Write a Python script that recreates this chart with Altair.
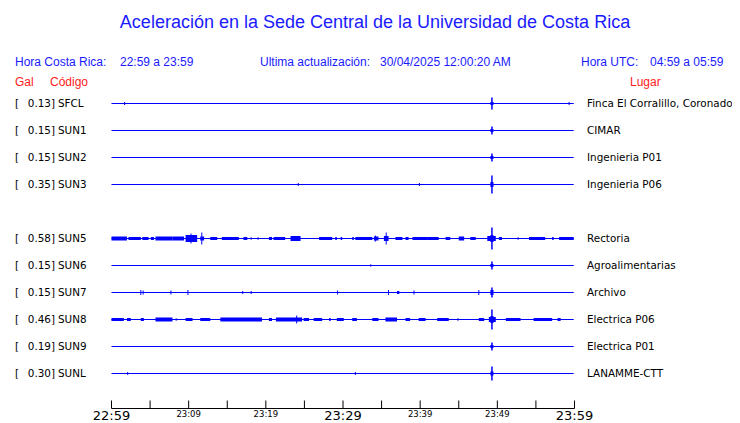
import altair as alt
import pandas as pd

# ---------------- data ----------------
codes = ["SFCL", "SUN1", "SUN2", "SUN3", "SUN5", "SUN6", "SUN7", "SUN8", "SUN9", "SUNL"]
row_pos = [0, 1, 2, 3, 5, 6, 7, 8, 9, 10]
gal = [0.13, 0.15, 0.15, 0.35, 0.58, 0.15, 0.15, 0.46, 0.19, 0.30]
places = ["Finca El Corralillo, Coronado", "CIMAR", "Ingenieria P01", "Ingenieria P06",
          "Rectoria", "Agroalimentarias", "Archivo", "Electrica P06", "Electrica P01", "LANAMME-CTT"]
trace_end = [59.9, 59.9, 59.9, 59.9, 59.9, 59.9, 59.9, 59.9, 59.9, 59.9]

# main event (minutes after 22:59) and amplitude per station
event_t = 49.3
event_amp = [6, 4, 4, 9, 11, 4, 5, 10, 4, 7]
event_box = [1.5, 1.5, 1.5, 2.5, 3.5, 1.5, 2.5, 3.5, 1.5, 2]

# small isolated blips
blip_code = ["SFCL", "SFCL", "SUN3", "SUN3", "SUN6", "SUNL", "SUNL",
             "SUN7", "SUN7", "SUN7", "SUN7", "SUN7", "SUN7", "SUN7", "SUN7", "SUN7", "SUN7",
             "SUN5", "SUN5", "SUN5", "SUN5", "SUN8"]
blip_t = [1.7, 59.3, 24.2, 39.9, 33.6, 2.1, 31.6,
          3.8, 4.1, 7.7, 9.9, 17.0, 18.1, 29.3, 35.9, 39.2, 47.6,
          10.3, 11.7, 34.2, 35.6, 24.0]
blip_amp = [1.5, 1.5, 1.5, 1.5, 1.2, 1.5, 1.5,
            2.5, 2, 2, 2.5, 1.5, 1.5, 2, 2.5, 2, 2.5,
            5, 6, 3, 6, 4]

# bursts of noise (start, end in minutes; half amplitude)
burst_code = (["SUN5"] * 36) + (["SUN8"] * 26) + ["SUN7"]
burst_start = [0.0, 2.2, 4.0, 5.1, 5.7, 7.9, 9.6, 11.5, 12.8, 14.3, 17.1, 18.0, 18.9, 20.4,
               21.0, 23.2, 26.9, 29.0, 29.7, 31.2, 31.6, 34.0, 35.3, 36.8, 38.1, 39.0, 43.3,
               45.0, 46.5, 48.7, 50.2, 52.6, 54.1, 57.1, 58.0, 41.0,
               0.0, 2.0, 3.8, 5.7, 8.3, 9.6, 11.5, 14.1, 20.4, 21.3, 24.9, 26.2, 28.2, 29.2,
               31.2, 33.8, 35.5, 38.1, 39.8, 42.2, 44.8, 47.6, 48.9, 51.1, 54.7, 57.8,
               37.0]
burst_end = [2.0, 3.8, 4.8, 5.5, 7.9, 9.4, 11.1, 12.0, 13.7, 16.5, 17.6, 18.2, 19.1, 20.8,
             22.5, 24.5, 28.6, 29.2, 29.9, 31.4, 33.8, 34.6, 35.9, 37.7, 38.5, 41.0, 43.9,
             45.7, 47.2, 49.8, 50.6, 52.8, 56.2, 57.3, 59.9, 42.4,
             1.6, 2.5, 4.2, 7.9, 8.5, 10.5, 12.8, 19.5, 20.8, 24.7, 25.6, 27.3, 28.4, 30.1,
             31.8, 34.6, 37.0, 38.7, 40.7, 43.7, 45.0, 48.3, 49.8, 53.0, 57.1, 58.2,
             37.3]
burst_amp = [2, 1.5, 1.5, 1.5, 2, 2, 3.5, 2, 1.5, 1.5, 1.5, 1, 1, 1.5,
             1.5, 2.5, 1.5, 1.5, 1.5, 1.5, 1.5, 2, 2.5, 1.5, 1.5, 1.5, 1.5,
             2, 1.5, 2.5, 1.5, 1, 1.5, 1.5, 1.5, 1.5,
             1.5, 1.5, 1.5, 2, 1, 1.5, 1.5, 2, 1.5, 2, 1.5, 1.5, 1.5, 1.5,
             1.5, 1.5, 2, 1.5, 1.5, 1.5, 1, 1.5, 2.5, 1.5, 1.5, 1.5,
             1.5]

tick_minutes = [0, 5, 10, 15, 20, 25, 30, 35, 40, 45, 50, 55, 60]
label_minutes = [0, 10, 20, 30, 40, 50, 60]
tick_labels = ["22:59", "23:09", "23:19", "23:29", "23:39", "23:49", "23:59"]
label_major = [True, False, False, True, False, False, True]

# ---------------- tables ----------------
row_of = dict(zip(codes, row_pos))
ROW_PX = 27.0

stations = pd.DataFrame({"code": codes, "row": row_pos, "gal": gal, "place": places,
                         "end": trace_end, "t": event_t, "amp": event_amp, "box": event_box})
stations["galtxt"] = stations["gal"].map(lambda v: f"{v:.2f}]")

blips = pd.DataFrame({"code": blip_code, "t": blip_t, "amp": blip_amp})
blips["row"] = blips["code"].map(row_of)

bursts = pd.DataFrame({"code": burst_code, "s": burst_start, "e": burst_end, "amp": burst_amp})
bursts["row"] = bursts["code"].map(row_of)

ticks = pd.DataFrame({"m": tick_minutes})
labels = pd.DataFrame({"m": label_minutes, "lab": tick_labels, "major": label_major})

BLUE = "#0000ff"
TBLUE = "#1a1aff"
RED = "#ff1a1a"

xs = alt.Scale(domain=[0, 60], range=[103.5, 566.5], nice=False, zero=False)
ys = alt.Scale(domain=[0, 10], range=[95.5, 365.5], nice=False, zero=False)


def X(f):
    return alt.X(f, type="quantitative", scale=xs, axis=None)


def Y(f):
    return alt.Y(f, type="quantitative", scale=ys, axis=None)


# traces baseline
base_lines = alt.Chart(stations).transform_calculate(s="0").mark_rule(
    color=BLUE, strokeWidth=1).encode(x=X("s:Q"), x2="end:Q", y=Y("row:Q"))

burst_layer = alt.Chart(bursts).transform_calculate(
    lo=f"datum.row - datum.amp/{ROW_PX}", hi=f"datum.row + datum.amp/{ROW_PX}"
).mark_rect(color=BLUE).encode(x=X("s:Q"), x2="e:Q", y=Y("lo:Q"), y2="hi:Q")

blip_layer = alt.Chart(blips).transform_calculate(
    lo=f"datum.row - datum.amp/{ROW_PX}", hi=f"datum.row + datum.amp/{ROW_PX}"
).mark_rule(color=BLUE, strokeWidth=1).encode(x=X("t:Q"), y=Y("lo:Q"), y2="hi:Q")

event_layer = alt.Chart(stations).transform_calculate(
    lo=f"datum.row - datum.amp/{ROW_PX}", hi=f"datum.row + datum.amp/{ROW_PX}"
).mark_rule(color=BLUE, strokeWidth=1.5).encode(x=X("t:Q"), y=Y("lo:Q"), y2="hi:Q")

event_box_layer = alt.Chart(stations).transform_calculate(
    lo=f"datum.row - datum.box/{ROW_PX}", hi=f"datum.row + datum.box/{ROW_PX}",
    a="datum.t - 0.2", b="datum.t + 0.2"
).mark_rect(color=BLUE).encode(x=X("a:Q"), x2="b:Q", y=Y("lo:Q"), y2="hi:Q")

# row labels
FS = 10.4
bracket = alt.Chart(stations).mark_text(align="left", baseline="middle", font="DejaVu Sans",
                                        fontSize=FS, color="black", text="[").encode(
    x=alt.value(7), y=Y("row:Q"))
galt = alt.Chart(stations).mark_text(align="right", baseline="middle", font="DejaVu Sans",
                                     fontSize=FS, color="black").encode(
    x=alt.value(47), y=Y("row:Q"), text="galtxt:N")
codet = alt.Chart(stations).mark_text(align="left", baseline="middle", font="DejaVu Sans",
                                      fontSize=FS, color="black").encode(
    x=alt.value(50), y=Y("row:Q"), text="code:N")
placet = alt.Chart(stations).mark_text(align="left", baseline="middle", font="DejaVu Sans",
                                       fontSize=FS, color="black").encode(
    x=alt.value(579), y=Y("row:Q"), text="place:N")

# time axis
axis_line = alt.Chart(pd.DataFrame({"a": [0], "b": [60]})).mark_rule(
    color="black", strokeWidth=1).encode(x=X("a:Q"), x2="b:Q", y=alt.value(400.5))
tick_layer = alt.Chart(ticks).mark_rule(color="black", strokeWidth=1).encode(
    x=X("m:Q"), y=alt.value(392.5), y2=alt.value(400.5))
big_lab = alt.Chart(labels).transform_filter("datum.major").mark_text(
    align="center", baseline="middle", font="DejaVu Sans", fontSize=13, color="black").encode(
    x=X("m:Q"), y=alt.value(407.5), text="lab:N")
small_lab = alt.Chart(labels).transform_filter("!datum.major").mark_text(
    align="center", baseline="middle", font="DejaVu Sans", fontSize=8.5, color="black").encode(
    x=X("m:Q"), y=alt.value(405.5), text="lab:N")


def label(txt, x, y, size, color, align="left", font="Liberation Sans"):
    return alt.Chart(pd.DataFrame({"t": [txt]})).mark_text(
        align=align, baseline="middle", font=font, fontSize=size, color=color).encode(
        x=alt.value(x), y=alt.value(y), text="t:N")


headers = [
    label("Aceleración en la Sede Central de la Universidad de Costa Rica", 367, 15, 18, TBLUE,
          align="center"),
    label("Hora Costa Rica:", 7, 54, 12, TBLUE),
    label("22:59 a 23:59", 112, 54, 12, TBLUE),
    label("Ultima actualización:", 252, 54, 12, TBLUE),
    label("30/04/2025 12:00:20 AM", 372, 54, 12, TBLUE),
    label("Hora UTC:", 573, 54, 12, TBLUE),
    label("04:59 a 05:59", 642, 54, 12, TBLUE),
    label("Gal", 7, 74, 12, RED),
    label("Código", 42, 74, 12, RED),
    label("Lugar", 622, 74, 12, RED),
]

chart = alt.layer(
    base_lines, burst_layer, blip_layer, event_box_layer, event_layer,
    bracket, galt, codet, placet,
    axis_line, tick_layer, big_lab, small_lab,
    *headers
).properties(
    width=724, height=413, autosize=alt.AutoSizeParams(type="none"), padding=0,
    background="white"
).configure_view(stroke=None)

chart.save("out.html", embed_options={"renderer": "svg", "actions": False})
